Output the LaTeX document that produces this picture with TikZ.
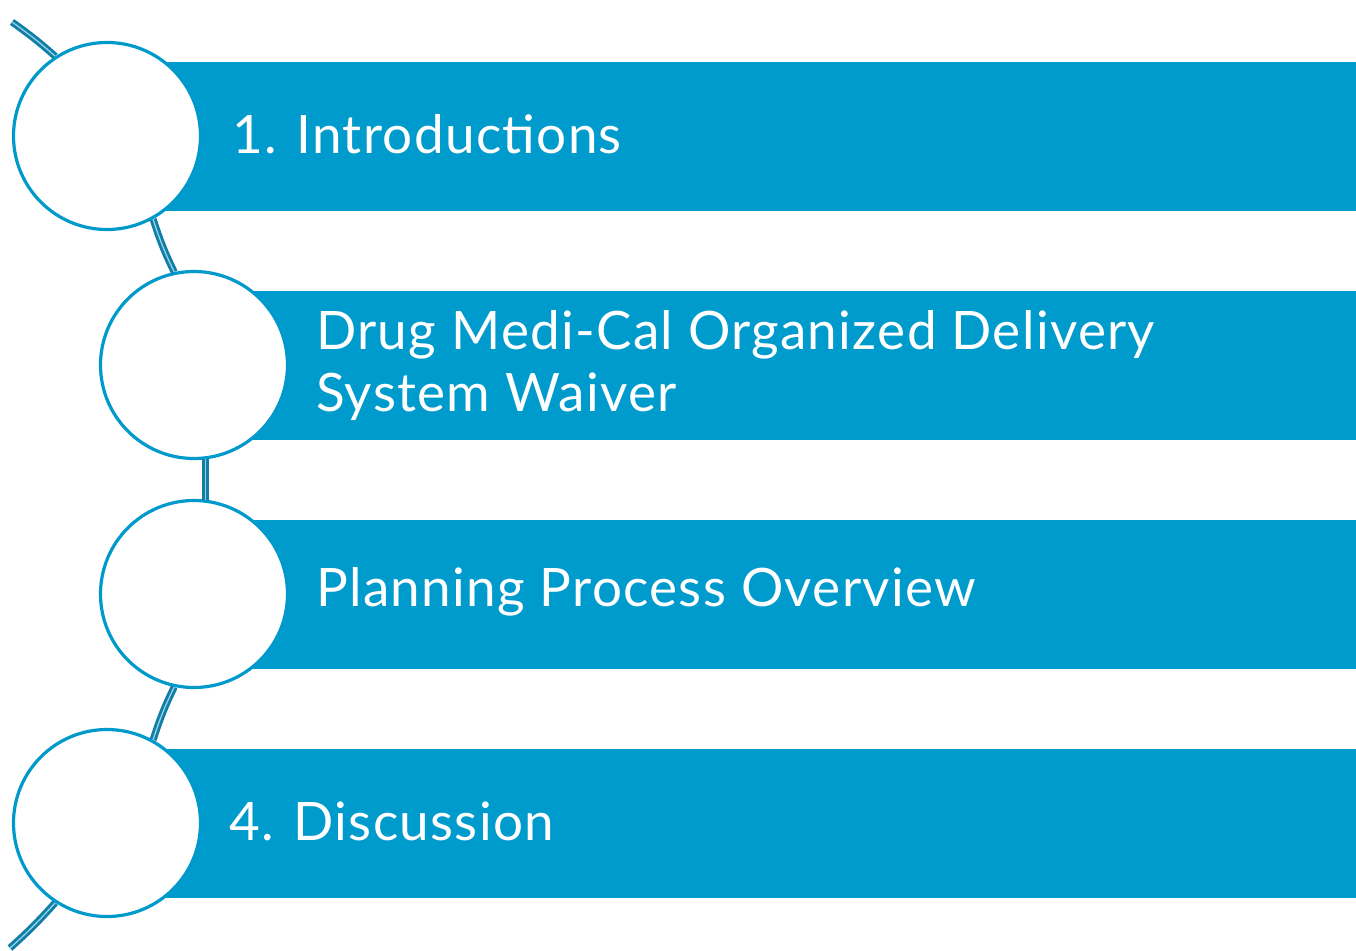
\documentclass[tikz,border=0pt]{standalone}
\usepackage{fontspec}
\setmainfont[LetterSpace=2.5]{Lato}
\definecolor{barblue}{RGB}{0,155,205}
\definecolor{ringblue}{RGB}{0,153,204}
\definecolor{linkdark}{RGB}{16,126,166}
\definecolor{linklight}{RGB}{150,210,230}
\begin{document}
\begin{tikzpicture}[x=1pt,y=-1pt,
  bar/.style={fill=barblue,draw=none},
  ring/.style={circle,draw=ringblue,fill=white,line width=3.2pt,minimum size=187pt,inner sep=0pt},
  link/.style={draw=linkdark,double=linklight,double distance=1.3pt,line width=2.9pt},
  lbl/.style={anchor=west,text=white,font=\fontsize{53}{62}\selectfont,align=left,inner sep=0pt}]
\useasboundingbox (0,0) rectangle (1356,950);
% bars
\fill[barblue] (107,62) rectangle (1356,211);
\fill[barblue] (194,291) rectangle (1356,440);
\fill[barblue] (194,520) rectangle (1356,669);
\fill[barblue] (107,749) rectangle (1356,898);
% free ends
\coordinate (top) at (12,22);
\coordinate (bot) at (10,948);
% circles
\node[ring] (c1) at (107,136) {};
\node[ring] (c2) at (194,365) {};
\node[ring] (c3) at (194,594) {};
\node[ring] (c4) at (107,823) {};
% links
\draw[link] (top) to[bend left=3] (c1.123);
\draw[link] (c1.-61) to[bend right=4] (c2.102);
\draw[link] (c2.-83) -- (c3.83);
\draw[link] (c3.-102) to[bend right=4] (c4.61);
\draw[link] (c4.-123) to[bend left=3] (bot);
% labels
\node[lbl] (t1) at (232,134) {1. Introductions};
\node[lbl] (t2) at (316,366) {Drug Medi-Cal Organized Delivery\\System Waiver};
\node[lbl] (t3) at (316,592) {Planning Process Overview};
\node[lbl] (t4) at (229,821) {4. Discussion};
\end{tikzpicture}
\end{document}
